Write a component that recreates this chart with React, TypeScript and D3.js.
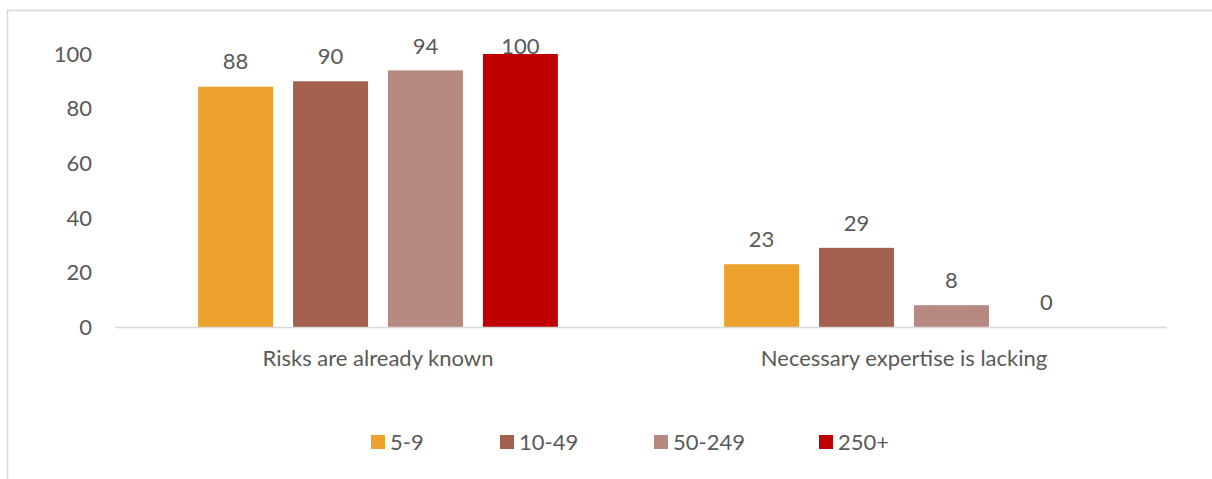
import { useEffect, useRef } from 'react';
import * as d3 from 'd3';

const categories = ['Risks are already known', 'Necessary expertise is lacking'];
const seriesNames = ['5-9', '10-49', '50-249', '250+'];
const seriesColors = ['#eea22e', '#a3614d', '#b68a80', '#c00000'];
// values per series, one entry per category
const values5to9 = [88, 23];
const values10to49 = [90, 29];
const values50to249 = [94, 8];
const values250plus = [100, 0];
const yTicks = [0, 20, 40, 60, 80, 100];

export default function App() {
  const svgRef = useRef<SVGSVGElement>(null);

  useEffect(() => {
    if (!svgRef.current) return;
    const svg = d3.select(svgRef.current);
    svg.selectAll('*').remove();

    const width = 1212;
    const height = 479;
    const font = 'Lato, "Open Sans", sans-serif';
    const fontSize = '22px';
    const textColor = '#595959';

    const plot = { left: 115, right: 1167, top: 54, bottom: 327 };
    const seriesValues = [values5to9, values10to49, values50to249, values250plus];

    // outer chart border (runs off the right/bottom edge like the source)
    svg.append('rect')
      .attr('x', 7.5).attr('y', 10.5)
      .attr('width', width + 50).attr('height', height + 50)
      .attr('fill', 'white')
      .attr('stroke', '#d9d9d9')
      .attr('stroke-width', 1.5);

    const x0 = d3.scaleBand<string>()
      .domain(categories)
      .range([plot.left, plot.right]);

    const inner = x0.bandwidth();
    const x1 = d3.scaleBand<string>()
      .domain(seriesNames)
      .range([inner * 0.158, inner * 0.842])
      .paddingInner(0.21)
      .paddingOuter(0);

    const y = d3.scaleLinear().domain([0, 100]).range([plot.bottom, plot.top]);

    // y tick labels
    svg.append('g')
      .selectAll('text')
      .data(yTicks)
      .join('text')
      .attr('x', 92)
      .attr('y', d => y(d))
      .attr('dy', '0.35em')
      .attr('text-anchor', 'end')
      .style('font-family', font)
      .style('font-size', fontSize)
      .style('fill', textColor)
      .text(d => d);

    // bars
    const groups = svg.append('g')
      .selectAll('g')
      .data(categories)
      .join('g')
      .attr('transform', d => `translate(${x0(d)},0)`);

    groups.each(function (cat, ci) {
      const g = d3.select(this);
      seriesNames.forEach((s, si) => {
        const v = seriesValues[si][ci];
        g.append('rect')
          .attr('x', x1(s)!)
          .attr('y', y(v))
          .attr('width', x1.bandwidth())
          .attr('height', y(0) - y(v))
          .attr('fill', seriesColors[si]);
        // labels sit above the bar but are kept inside the plot top
        g.append('text')
          .attr('x', x1(s)! + x1.bandwidth() / 2)
          .attr('y', Math.max(y(v) - 25, 46))
          .attr('dy', '0.35em')
          .attr('text-anchor', 'middle')
          .style('font-family', font)
          .style('font-size', fontSize)
          .style('fill', textColor)
          .text(v);
      });
    });

    // baseline
    svg.append('line')
      .attr('x1', plot.left).attr('x2', plot.right)
      .attr('y1', y(0) + 0.5).attr('y2', y(0) + 0.5)
      .attr('stroke', '#d9d9d9')
      .attr('stroke-width', 1.5);

    // category labels
    svg.append('g')
      .selectAll('text')
      .data(categories)
      .join('text')
      .attr('x', d => x0(d)! + inner / 2)
      .attr('y', 358)
      .attr('dy', '0.35em')
      .attr('text-anchor', 'middle')
      .style('font-family', font)
      .style('font-size', fontSize)
      .style('fill', textColor)
      .text(d => d);

    // legend
    const legendX = [371, 500, 654, 819];
    const legend = svg.append('g')
      .selectAll('g')
      .data(seriesNames)
      .join('g')
      .attr('transform', (d, i) => `translate(${legendX[i]},442)`);
    legend.append('rect')
      .attr('x', 0).attr('y', -7)
      .attr('width', 14).attr('height', 14)
      .attr('fill', (d, i) => seriesColors[i]);
    legend.append('text')
      .attr('x', 19)
      .attr('y', 0)
      .attr('dy', '0.35em')
      .style('font-family', font)
      .style('font-size', fontSize)
      .style('fill', textColor)
      .text(d => d);
  }, []);

  return (
    <svg
      ref={svgRef}
      width={1212}
      height={479}
      style={{ position: 'absolute', left: 0, top: 0, background: 'white' }}
    />
  );
}
